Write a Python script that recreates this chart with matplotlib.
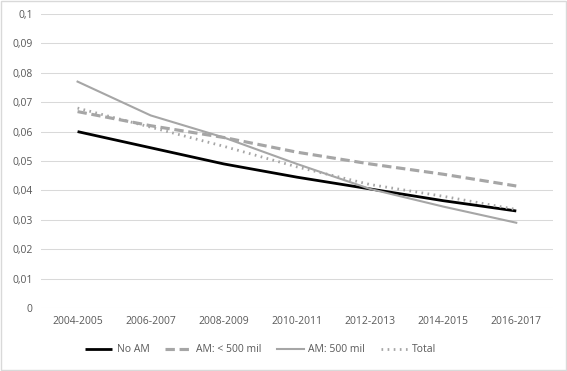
import matplotlib.pyplot as plt
import numpy as np

periods = ['2004-2005', '2006-2007', '2008-2009', '2010-2011',
           '2012-2013', '2014-2015', '2016-2017']
no_am = [0.060, 0.0545, 0.049, 0.0445, 0.0405, 0.0365, 0.033]
am_small = [0.0668, 0.062, 0.058, 0.053, 0.049, 0.0455, 0.0415]
am_big = [0.077, 0.0655, 0.058, 0.049, 0.0405, 0.0345, 0.029]
total = [0.068, 0.0615, 0.055, 0.048, 0.042, 0.038, 0.0335]
yticks = [0, 0.01, 0.02, 0.03, 0.04, 0.05, 0.06, 0.07, 0.08, 0.09, 0.1]
ytick_labels = ['0', '0,01', '0,02', '0,03', '0,04', '0,05', '0,06',
                '0,07', '0,08', '0,09', '0,1']

plt.rcParams['font.family'] = ['Open Sans', 'DejaVu Sans']
txt = '#595959'
grey = '#a6a6a6'

fig = plt.figure(figsize=(5.67, 3.71), dpi=100)
ax = fig.add_axes([0.0723, 0.1698, 0.9027, 0.7925])

x = np.arange(len(periods))
ax.plot(x, no_am, color='black', lw=2.0, label='No AM', solid_capstyle='butt')
ax.plot(x, am_small, color=grey, lw=2.25, dashes=(3, 1.5), label='AM: < 500 mil')
ax.plot(x, am_big, color=grey, lw=1.5, label='AM: 500 mil')
ax.plot(x, total, color=grey, lw=2.0, dashes=(0.6, 1.6), label='Total')

ax.set_xlim(-0.5, len(periods) - 0.5)
ax.set_ylim(0, 0.1)
ax.set_yticks(yticks)
ax.set_yticklabels(ytick_labels)
ax.set_xticks(x)
ax.set_xticklabels(periods)
ax.tick_params(length=0, labelsize=7.5, colors=txt, pad=6)
ax.grid(axis='y', color='#d9d9d9', lw=0.75)
ax.set_axisbelow(True)
for s in ax.spines.values():
    s.set_visible(False)

leg = fig.legend(loc='center', bbox_to_anchor=(0.46, 0.057), ncol=4, frameon=False,
                 fontsize=7.5, handlelength=2.6, columnspacing=1.5, handletextpad=0.4)
for t in leg.get_texts():
    t.set_color(txt)

fig.patches.append(plt.Rectangle((0.001, 0.002), 0.997, 0.995, transform=fig.transFigure,
                                 fill=False, edgecolor='#d9d9d9', lw=1))

fig.savefig('out.png', dpi=100)
